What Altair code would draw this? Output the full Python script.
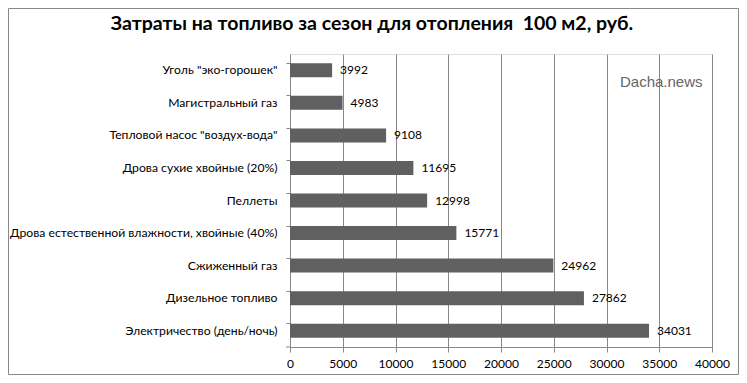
import altair as alt
import pandas as pd

categories = [
    'Уголь "эко-горошек"',
    "Магистральный газ",
    'Тепловой насос "воздух-вода"',
    "Дрова сухие хвойные (20%)",
    "Пеллеты",
    "Дрова естественной влажности, хвойные (40%)",
    "Сжиженный газ",
    "Дизельное топливо",
    "Электричество (день/ночь)",
]
values = [3992, 4983, 9108, 11695, 12998, 15771, 24962, 27862, 34031]
title_text = "Затраты на топливо за сезон для отопления\u00a0\u00a0100 м2, руб."
watermark = "Dacha.news"

df = pd.DataFrame({"cat": categories, "val": values})
FONT = "Lato"

y_enc = alt.Y(
    "cat:N", sort=None, title=None,
    scale=alt.Scale(paddingInner=0.57, paddingOuter=0.285),
    axis=alt.Axis(bandPosition=0, labelFont=FONT, labelFontSize=12.2, labelColor="#000",
                  labelPadding=9, tickSize=4, tickColor="#888", domainColor="#888",
                  labelLimit=400, grid=False),
)
x_enc = alt.X(
    "val:Q", title=None,
    scale=alt.Scale(domain=[0, 40000], nice=False),
    axis=alt.Axis(values=list(range(0, 40001, 5000)), format="d", labelFont=FONT,
                  labelFontSize=12, labelColor="#000", tickSize=5, tickColor="#888",
                  domainColor="#888", gridColor="#888", gridWidth=1, labelPadding=6,
                  labelFlush=False),
)

base = alt.Chart(df)
bars = base.mark_bar(color="#606060", size=14).encode(x=x_enc, y=y_enc)
labels = base.mark_text(align="left", dx=8, font=FONT, fontSize=12, color="#000").encode(
    x="val:Q", y=alt.Y("cat:N", sort=None), text="val:Q"
)

tdf = pd.DataFrame({"t": [title_text]})
title = alt.Chart(tdf).mark_text(font=FONT, fontSize=19.5, fontWeight="bold", color="#000",
                                 align="center", baseline="middle").encode(
    text="t:N", x=alt.value(82), y=alt.value(-30)
)
wdf = pd.DataFrame({"t": [watermark]})
wm = alt.Chart(wdf).mark_text(font="Liberation Sans", fontSize=15, color="#666",
                              align="left", baseline="middle").encode(
    text="t:N", x=alt.value(330), y=alt.value(28)
)
frame = alt.Chart(tdf).mark_rect(fill=None, stroke="#888", strokeWidth=1).encode(
    x=alt.value(-281.5), x2=alt.value(448.5), y=alt.value(-45.5), y2=alt.value(320.5)
)
bottom_tick = alt.Chart(tdf).mark_rule(color="#888").encode(
    x=alt.value(-4), x2=alt.value(0), y=alt.value(293)
)

chart = alt.layer(bars, labels, title, wm, frame, bottom_tick).properties(
    width=422, height=293,
    autosize=alt.AutoSizeParams(type="none"),
    padding={"left": 282, "top": 46, "right": 27, "bottom": 28},
).configure_view(stroke=None).configure(background="white")

chart.save("out.html", embed_options={"renderer": "svg", "actions": False})
